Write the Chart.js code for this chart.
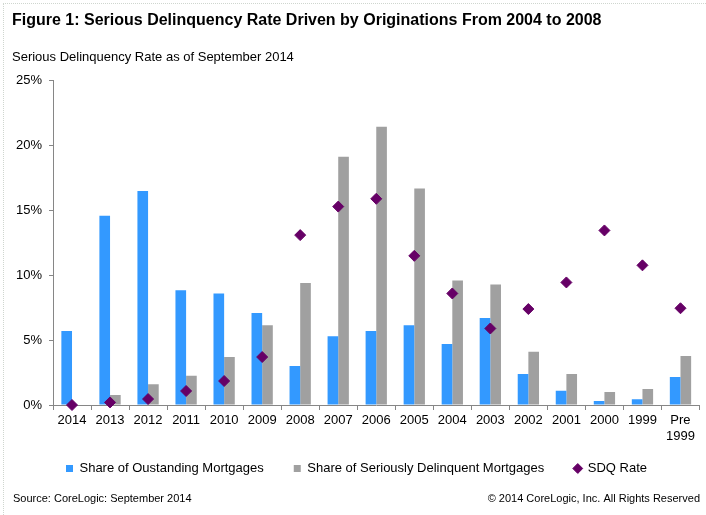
<!DOCTYPE html>
<html>
<head>
<meta charset="utf-8">
<script src="https://cdn.jsdelivr.net/npm/chart.js@4.4.1/dist/chart.umd.min.js"></script>
<style>
  html, body { margin:0; padding:0; background:#fff; }
  #wrap { position:relative; width:706px; height:515px; }
  #frame { position:absolute; left:3px; top:3px; right:0; bottom:0; border-top:1px dotted #cfd6cf; border-left:1px dotted #cfd6cf; pointer-events:none; }
  canvas { position:absolute; left:0; top:0; }
</style>
</head>
<body>
<div id="wrap">
  <canvas id="chart" width="706" height="515"></canvas>
  <div id="frame"></div>
</div>
<script>
const years = ['2014','2013','2012','2011','2010','2009','2008','2007','2006','2005','2004','2003','2002','2001','2000','1999',['Pre','1999']];
const shareOutstanding = [5.7, 14.6, 16.5, 8.85, 8.6, 7.1, 3.0, 5.3, 5.7, 6.15, 4.7, 6.7, 2.4, 1.1, 0.3, 0.45, 2.15];
const shareDelinquent  = [0.0, 0.77, 1.6, 2.25, 3.7, 6.15, 9.4, 19.15, 21.45, 16.7, 9.6, 9.3, 4.1, 2.4, 1.0, 1.23, 3.77];
const sdqRate          = [0.0, 0.2, 0.46, 1.08, 1.85, 3.7, 13.1, 15.3, 15.9, 11.5, 8.6, 5.9, 7.4, 9.45, 13.46, 10.77, 7.46];
const yTicks = [0, 5, 10, 15, 20, 25];

const FONT = "Arial, 'Liberation Sans', sans-serif";
const axisGrey = '#868686';

// footer texts, drawn under the legend
const footer = {
  id: 'footer',
  afterDraw(c){
    const ctx = c.ctx;
    ctx.save();
    ctx.fillStyle = '#000';
    ctx.font = '11px ' + FONT;
    ctx.textBaseline = 'middle';
    ctx.textAlign = 'left';
    ctx.fillText('Source: CoreLogic: September 2014', 13, 499);
    ctx.textAlign = 'right';
    ctx.fillText('\u00A9 2014 CoreLogic, Inc. All Rights Reserved', 700, 499);
    ctx.restore();
  }
};

const chart = new Chart(document.getElementById('chart'), {
  type: 'bar',
  data: {
    labels: years,
    datasets: [
      { label:'Share of Oustanding Mortgages', data: shareOutstanding, backgroundColor:'#3399ff', pointStyle:'rect',
        categoryPercentage:0.56, barPercentage:1.0, order:1 },
      { label:'Share of Seriously Delinquent Mortgages', data: shareDelinquent, backgroundColor:'#a0a0a0', pointStyle:'rect',
        categoryPercentage:0.56, barPercentage:1.0, order:2 },
      { type:'line', label:'SDQ Rate', data: sdqRate, showLine:false, pointStyle:'rectRot', pointRadius:5.5, pointHoverRadius:5.5,
        backgroundColor:'#660066', borderColor:'#660066', borderWidth:1, clip:false, order:0 }
    ]
  },
  options: {
    responsive:false,
    animation:false,
    layout:{ padding:{ left:12, right:5, top:0, bottom:30 } },
    plugins:{
      title:{ display:true, text:'Figure 1: Serious Delinquency Rate Driven by Originations From 2004 to 2008', align:'start',
        color:'#000', font:{ family:FONT, size:16, weight:'bold' }, padding:{ top:11, bottom:19 } },
      subtitle:{ display:true, text:'Serious Delinquency Rate as of September 2014', align:'start',
        color:'#000', font:{ family:FONT, size:13 }, padding:{ top:0, bottom:16 } },
      legend:{ position:'bottom',
        labels:{ usePointStyle:true, boxWidth:7, boxHeight:7, padding:30, color:'#000', font:{ family:FONT, size:13 },
          sort:(a,b)=>a.datasetIndex-b.datasetIndex } },
      tooltip:{ enabled:false }
    },
    scales:{
      x:{
        grid:{ offset:true, drawOnChartArea:false, tickLength:5, color:axisGrey },
        border:{ color:axisGrey },
        ticks:{ color:'#000', font:{ family:FONT, size:13 }, padding:3, maxRotation:0, autoSkip:false },
        afterFit(s){
          s.height = 27;
          // two-line "Pre 1999" label runs into the empty top of the legend box
          s._computeLabelArea = () => undefined;
        }
      },
      y:{
        min:0, max:25,
        afterBuildTicks(s){ s.ticks = yTicks.map(v=>({ value:v })); },
        grid:{ drawOnChartArea:false, tickLength:4, color:axisGrey },
        border:{ color:axisGrey },
        ticks:{ color:'#000', font:{ family:FONT, size:13 }, padding:7, callback:v=>v+'%' },
        afterFit(s){ s.width = 41; }
      }
    }
  },
  plugins:[footer]
});
</script>
</body>
</html>
